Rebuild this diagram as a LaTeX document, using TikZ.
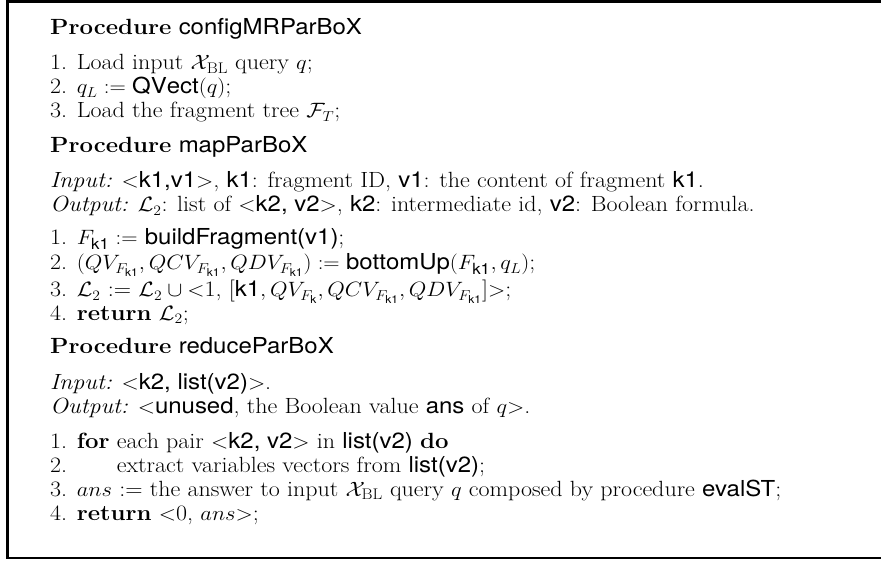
\documentclass[tikz,border=0pt]{standalone}
\usepackage{graphicx}
\usepackage{fontspec}
\setsansfont{TeX Gyre Heros}
% every line of the listing is set a little wider than the font's natural width
\newcommand{\wideline}[1]{\scalebox{1.09}[1]{#1}}
\begin{document}
\begin{tikzpicture}[x=1pt,y=-1pt]
\tikzset{
  frameline/.style={line width=2.6pt, line cap=rect},
  txt/.style={anchor=base west, inner sep=0pt, font=\fontsize{22}{24}\selectfont},
}
\useasboundingbox (0,0) rectangle (881,561);
% open frame: top, left and bottom sides
\coordinate (tr) at (890,1.3);
\coordinate (tl) at (7.5,1.3);
\coordinate (bl) at (7.5,558);
\coordinate (br) at (890,558);
\draw[frameline] (tr) -- (tl) -- (bl) -- (br);

% configMRParBoX
\node[txt] (p1)  at (50,35)  {\wideline{\textbf{Procedure} \textsf{configMRParBoX}}};
\node[txt] (p1a) at (50,70)  {\wideline{1. Load input $\mathcal{X}_{\mathrm{BL}}$ query $q$;}};
\node[txt] (p1b) at (50,94)  {\wideline{2. $q_L := \mathsf{QVect}(q)$;}};
\node[txt] (p1c) at (50,118) {\wideline{3. Load the fragment tree $\mathcal{F}_T$;}};

% mapParBoX
\node[txt] (p2)  at (50,153) {\wideline{\textbf{Procedure} \textsf{mapParBoX}}};
\node[txt] (p2i) at (50,188) {\wideline{\textit{Input:} $<$\textsf{k1,v1}$>$, \textsf{k1}: fragment ID, \textsf{v1}: the content of fragment \textsf{k1}.}};
\node[txt] (p2o) at (50,212) {\wideline{\textit{Output:} $\mathcal{L}_2$: list of $<$\textsf{k2, v2}$>$, \textsf{k2}: intermediate id, \textsf{v2}: Boolean formula.}};
\node[txt] (p2a) at (50,245) {\wideline{1. $F_{\mathsf{k1}} := $ \textsf{buildFragment(v1)};}};
\node[txt] (p2b) at (50,270) {\wideline{2. $(QV_{F_{\mathsf{k1}}}, QCV_{F_{\mathsf{k1}}}, QDV_{F_{\mathsf{k1}}}) := \mathsf{bottomUp}(F_{\mathsf{k1}}, q_L)$;}};
\node[txt] (p2c) at (50,297) {\wideline{3. $\mathcal{L}_2$ := $\mathcal{L}_2 \cup {<}$1, [\textsf{k1}$, QV_{F_{\mathsf{k}}}, QCV_{F_{\mathsf{k1}}}, QDV_{F_{\mathsf{k1}}}$]$>$;}};
\node[txt] (p2d) at (50,320) {\wideline{4. \textbf{return} $\mathcal{L}_2$;}};

% reduceParBoX
\node[txt] (p3)  at (50,354) {\wideline{\textbf{Procedure} \textsf{reduceParBoX}}};
\node[txt] (p3i) at (50,389) {\wideline{\textit{Input:} $<$\textsf{k2, list(v2)}$>$.}};
\node[txt] (p3o) at (50,413) {\wideline{\textit{Output:} $<$\textsf{unused}, the Boolean value \textsf{ans} of $q{>}$.}};
\node[txt] (p3a) at (50,448) {\wideline{1. \textbf{for} each pair $<$\textsf{k2, v2}$>$ in \textsf{list(v2)} \textbf{do}}};
\node[txt] (p3b) at (50,472) {\wideline{2. \phantom{\textbf{for}} extract variables vectors from \textsf{list(v2)};}};
\node[txt] (p3c) at (50,496) {\wideline{3. $ans$ := the answer to input $\mathcal{X}_{\mathrm{BL}}$ query $q$ composed by procedure \textsf{evalST};}};
\node[txt] (p3d) at (50,520) {\wideline{4. \textbf{return} $<$0, $ans{>}$;}};
\end{tikzpicture}
\end{document}
